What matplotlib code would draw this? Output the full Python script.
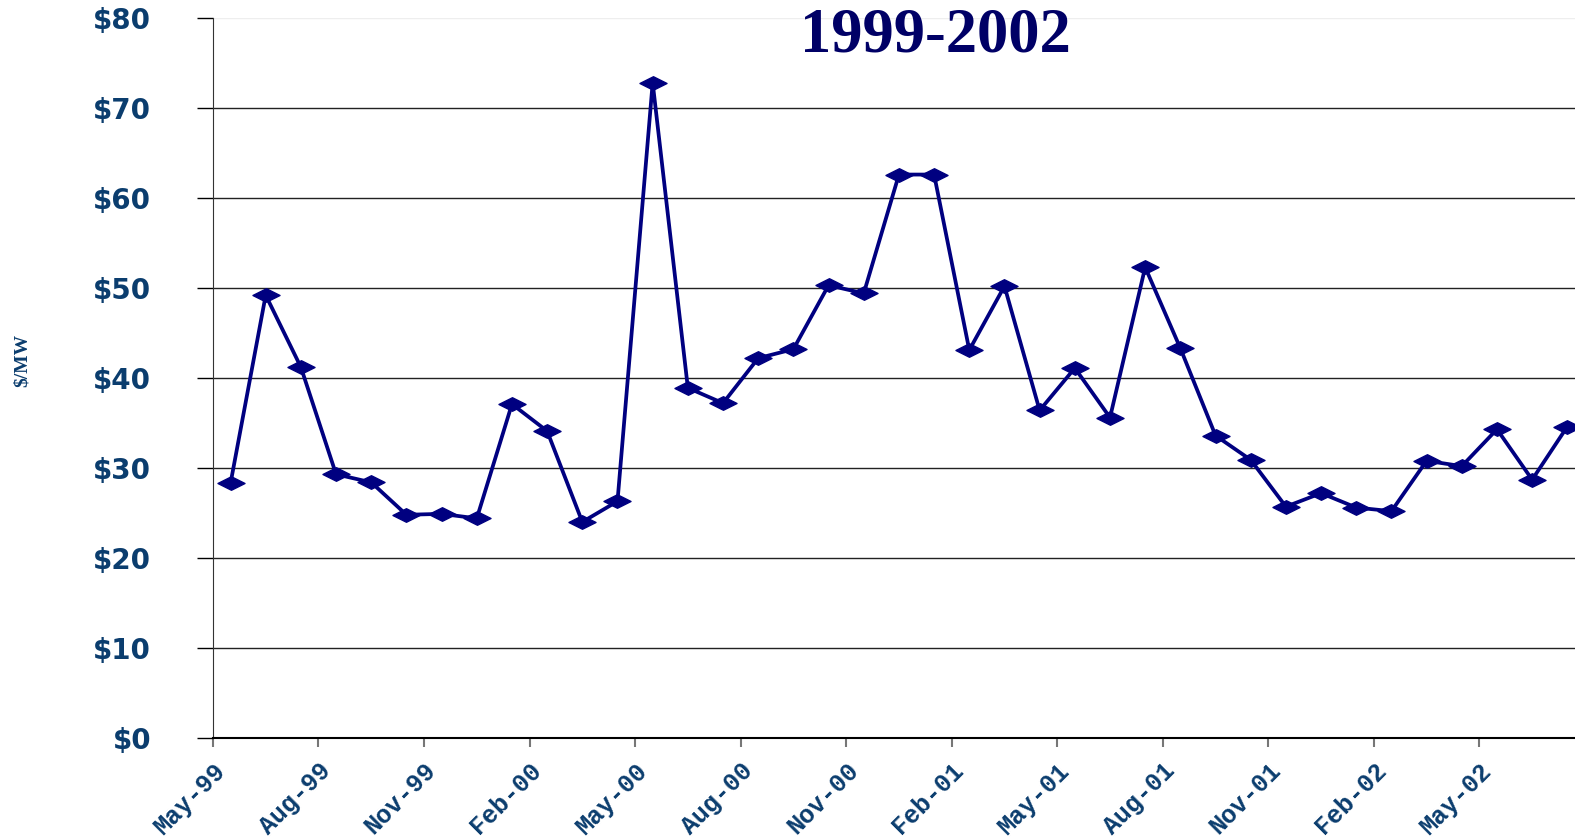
import matplotlib
matplotlib.use("Agg")
import matplotlib.pyplot as plt
from matplotlib.path import Path

# monthly prices, May-99 .. Jul-02
prices = [28.3, 49.2, 41.2, 29.3, 28.4, 24.8, 24.9, 24.4, 37.1, 34.1,
          24.0, 26.3, 72.8, 38.9, 37.2, 42.2, 43.2, 50.3, 49.4, 62.6,
          62.6, 43.1, 50.2, 36.4, 41.1, 35.6, 52.3, 43.3, 33.6, 30.9,
          25.7, 27.2, 25.6, 25.2, 30.8, 30.2, 34.3, 28.7, 34.6]
tick_labels = ["May-99", "Aug-99", "Nov-99", "Feb-00", "May-00", "Aug-00",
               "Nov-00", "Feb-01", "May-01", "Aug-01", "Nov-01", "Feb-02",
               "May-02"]
y_ticks = [0, 10, 20, 30, 40, 50, 60, 70, 80]

navy = "#000080"
label_blue = "#0B3D6E"

# flat diamond marker
flat_diamond = Path([(-1, 0), (0, 0.5), (1, 0), (0, -0.5), (-1, 0)],
                    [Path.MOVETO, Path.LINETO, Path.LINETO, Path.LINETO, Path.CLOSEPOLY])

fig = plt.figure(figsize=(15.75, 8.39), dpi=100)
ax = fig.add_axes([0.1352, 0.1204, 0.8711, 0.8582])

x = list(range(len(prices)))
ax.plot(x, prices, color=navy, linewidth=2.7, marker=flat_diamond,
        markersize=19.5, markerfacecolor=navy, markeredgecolor=navy, zorder=3,
        clip_on=False)

ax.set_xlim(-0.5, len(prices) - 0.5)
ax.set_ylim(0, 80)

ax.set_yticks(y_ticks)
ax.set_yticklabels([f"${v}" for v in y_ticks], fontsize=20, fontweight="bold",
                   color=label_blue, family="DejaVu Sans")
ax.tick_params(axis="y", length=11.5, width=1, color="black", pad=33)

xt = [-0.5 + 3 * k for k in range(len(tick_labels))]
ax.set_xticks(xt)
ax.set_xticklabels(tick_labels, rotation=45, ha="right", va="top",
                   rotation_mode="anchor", fontsize=18, fontweight="bold",
                   color=label_blue, family="Liberation Mono")
ax.tick_params(axis="x", length=6.5, width=1.5, color="#777777", pad=8)

ax.yaxis.grid(True, color="#222222", linewidth=1)
gl = ax.yaxis.get_gridlines()
gl[-1].set_color("#eeeeee")
ax.set_axisbelow(True)

for s in ["top", "right"]:
    ax.spines[s].set_visible(False)
ax.spines["left"].set_color("#333333")
ax.spines["bottom"].set_color("black")
ax.spines["bottom"].set_linewidth(1.5)

fig.text(0.5937, 1 - 52 / 839, "1999-2002", ha="center", va="baseline",
         fontsize=45, fontweight="bold", color="#000066", family="Liberation Serif")
fig.text(0.014, 1 - 360 / 839, "$/MW", rotation=90, ha="center", va="center",
         fontsize=14, fontweight="bold", color=label_blue, family="Liberation Serif")

fig.savefig("out.png", dpi=100)
